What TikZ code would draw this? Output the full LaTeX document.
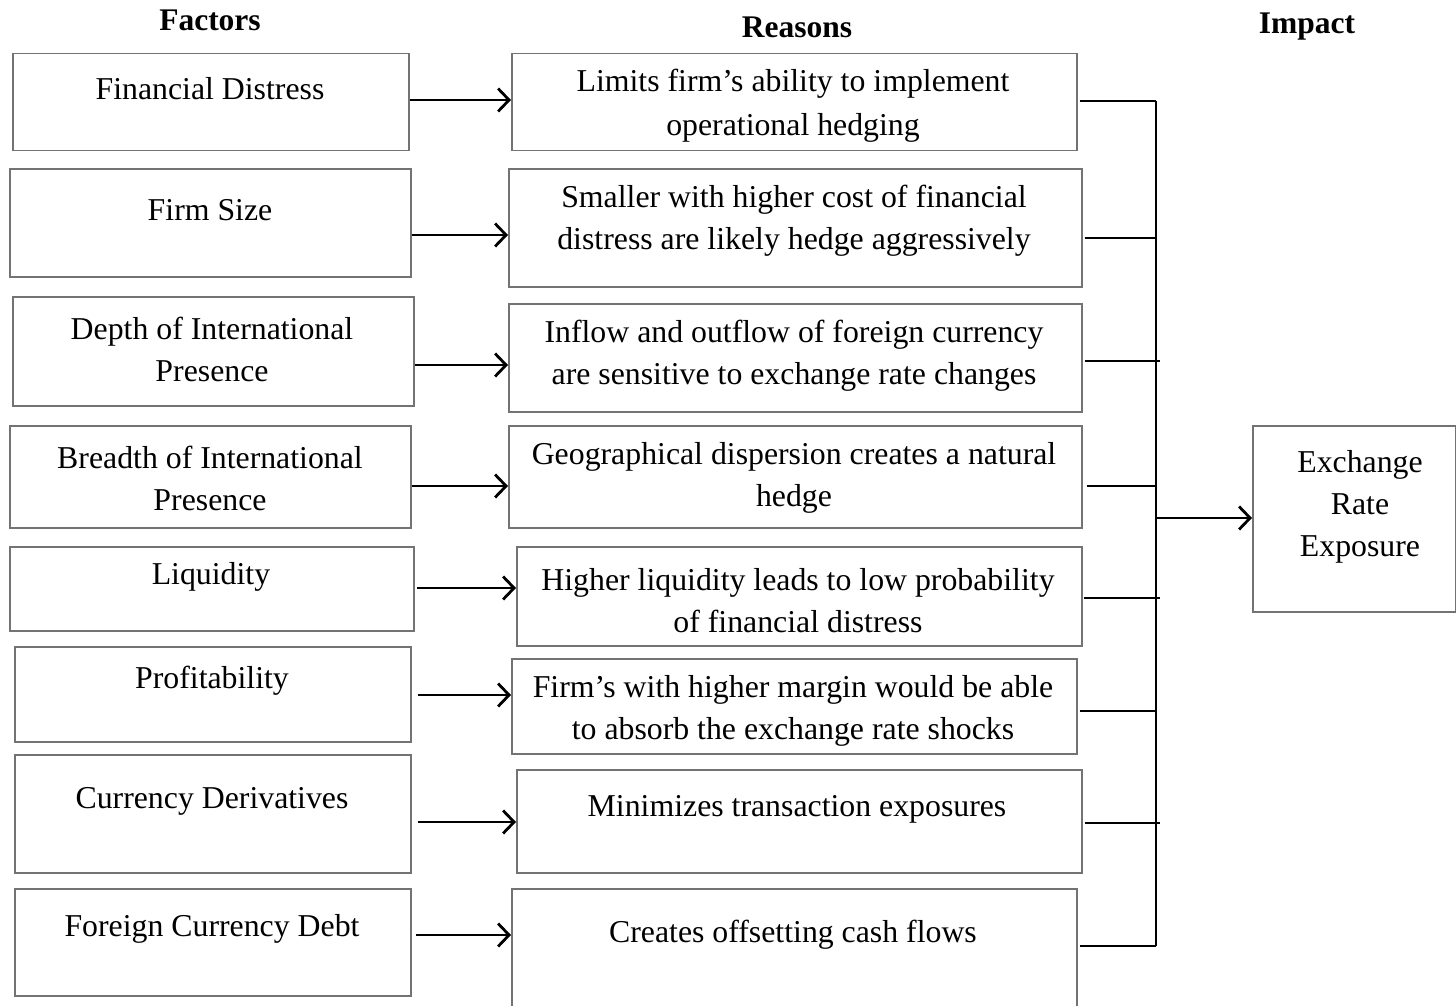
\documentclass[tikz,border=0pt]{standalone}
\usepackage{fontspec}
\setmainfont{Liberation Serif}
\usetikzlibrary{arrows.meta}
\begin{document}
\begin{tikzpicture}[x=1pt,y=-1pt,
  box/.style={draw=black!55,line width=1.5pt,inner sep=0pt},
  lbl/.style={align=center,inner sep=0pt,yshift=-3pt,font=\fontsize{31.8}{42}\selectfont},
  head/.style={inner sep=0pt,font=\fontsize{31.5}{38}\selectfont\bfseries},
  link/.style={line width=2.8pt,-{Straight Barb[length=11pt,width=23pt,line width=2.8pt]}},
  wire/.style={line width=2.8pt}]
\useasboundingbox (0,0) rectangle (1456,1006);
\clip (0,0) rectangle (1456,1006);

% column headings
\node[head] (hf) at (210,20) {Factors};
\node[head] (hr) at (797,27) {Reasons};
\node[head] (hi) at (1307,27) {Impact};

% factor boxes
\node[box,anchor=north west,minimum width=396pt,minimum height=97pt]  (f1) at (12,53)  {};
\node[box,anchor=north west,minimum width=401pt,minimum height=108pt] (f2) at (9,168)  {};
\node[box,anchor=north west,minimum width=401pt,minimum height=109pt] (f3) at (12,296) {};
\node[box,anchor=north west,minimum width=401pt,minimum height=102pt] (f4) at (9,425)  {};
\node[box,anchor=north west,minimum width=404pt,minimum height=84pt]  (f5) at (9,546)  {};
\node[box,anchor=north west,minimum width=396pt,minimum height=95pt]  (f6) at (14,646) {};
\node[box,anchor=north west,minimum width=396pt,minimum height=118pt] (f7) at (14,754) {};
\node[box,anchor=north west,minimum width=396pt,minimum height=107pt] (f8) at (14,888) {};

\node[lbl] (tf1) at (210,86)  {Financial Distress};
\node[lbl] (tf2) at (210,207) {Firm Size};
\node[lbl] (tf3) at (212,346) {Depth of International\\Presence};
\node[lbl] (tf4) at (210,475) {Breadth of International\\Presence};
\node[lbl] (tf5) at (211,574) {Liquidity};
\node[lbl] (tf6) at (212,678) {Profitability};
\node[lbl] (tf7) at (212,798) {Currency Derivatives};
\node[lbl] (tf8) at (212,926) {Foreign Currency Debt};

% reason boxes
\node[box,anchor=north west,minimum width=565pt,minimum height=97pt]  (r1) at (511,53)  {};
\node[box,anchor=north west,minimum width=573pt,minimum height=118pt] (r2) at (508,168) {};
\node[box,anchor=north west,minimum width=573pt,minimum height=108pt] (r3) at (508,303) {};
\node[box,anchor=north west,minimum width=573pt,minimum height=102pt] (r4) at (508,425) {};
\node[box,anchor=north west,minimum width=565pt,minimum height=99pt]  (r5) at (516,546) {};
\node[box,anchor=north west,minimum width=565pt,minimum height=95pt]  (r6) at (511,658) {};
\node[box,anchor=north west,minimum width=565pt,minimum height=103pt] (r7) at (516,769) {};
\node[box,anchor=north west,minimum width=565pt,minimum height=140pt] (r8) at (511,888) {};

\node[lbl,font=\fontsize{31.8}{44}\selectfont] (tr1) at (793,103) {Limits firm’s ability to implement\\operational hedging};
\node[lbl] (tr2) at (794,218) {Smaller with higher cost of financial\\distress are likely hedge aggressively};
\node[lbl] (tr3) at (794,353) {Inflow and outflow of foreign currency\\are sensitive to exchange rate changes};
\node[lbl] (tr4) at (794,475) {Geographical dispersion creates a natural\\hedge};
\node[lbl] (tr5) at (798,598) {Higher liquidity leads to low probability\\of financial distress};
\node[lbl] (tr6) at (793,708) {Firm’s with higher margin would be able\\to absorb the exchange rate shocks};
\node[lbl] (tr7) at (797,806) {Minimizes transaction exposures};
\node[lbl] (tr8) at (793,932) {Creates offsetting cash flows};

% impact box
\node[box,anchor=north west,minimum width=203pt,minimum height=186pt] (ex) at (1252,425) {};
\node[lbl,yshift=-1pt] (tex) at (1360,503) {Exchange\\Rate\\Exposure};

% factor -> reason arrows
\draw[link] (f1.east |- 0,100) -- (r1.west |- 0,100);
\draw[link] (f2.east |- 0,235) -- (r2.west |- 0,235);
\draw[link] (f3.east |- 0,365) -- (r3.west |- 0,365);
\draw[link] (f4.east |- 0,486) -- (r4.west |- 0,486);
\draw[link] ([xshift=2pt]f5.east |- 0,588) -- (r5.west |- 0,588);
\draw[link] ([xshift=6pt]f6.east |- 0,695) -- (r6.west |- 0,695);
\draw[link] ([xshift=6pt]f7.east |- 0,822) -- (r7.west |- 0,822);
\draw[link] ([xshift=4pt]f8.east |- 0,935) -- (r8.west |- 0,935);

% collecting bus towards the impact box
\coordinate (bt) at (1156,101);
\coordinate (bb) at (1156,946);
\coordinate (bm) at (1156,518);
\draw[wire] (bt) -- (bb);
\draw[wire] ([xshift=2pt]r1.east |- bt) -- (bt);
\draw[wire] ([xshift=2pt]r2.east |- 0,238) -- (1156,238);
\draw[wire] ([xshift=2pt]r3.east |- 0,361) -- (1160,361);
\draw[wire] ([xshift=4pt]r4.east |- 0,486) -- (1156,486);
\draw[wire] ([xshift=1pt]r5.east |- 0,598) -- (1160,598);
\draw[wire] ([xshift=2pt]r6.east |- 0,711) -- (1156,711);
\draw[wire] ([xshift=2pt]r7.east |- 0,823) -- (1160,823);
\draw[wire] ([xshift=2pt]r8.east |- bb) -- (bb);
\draw[link] (bm) -- (ex.west |- bm);
\end{tikzpicture}
\end{document}
